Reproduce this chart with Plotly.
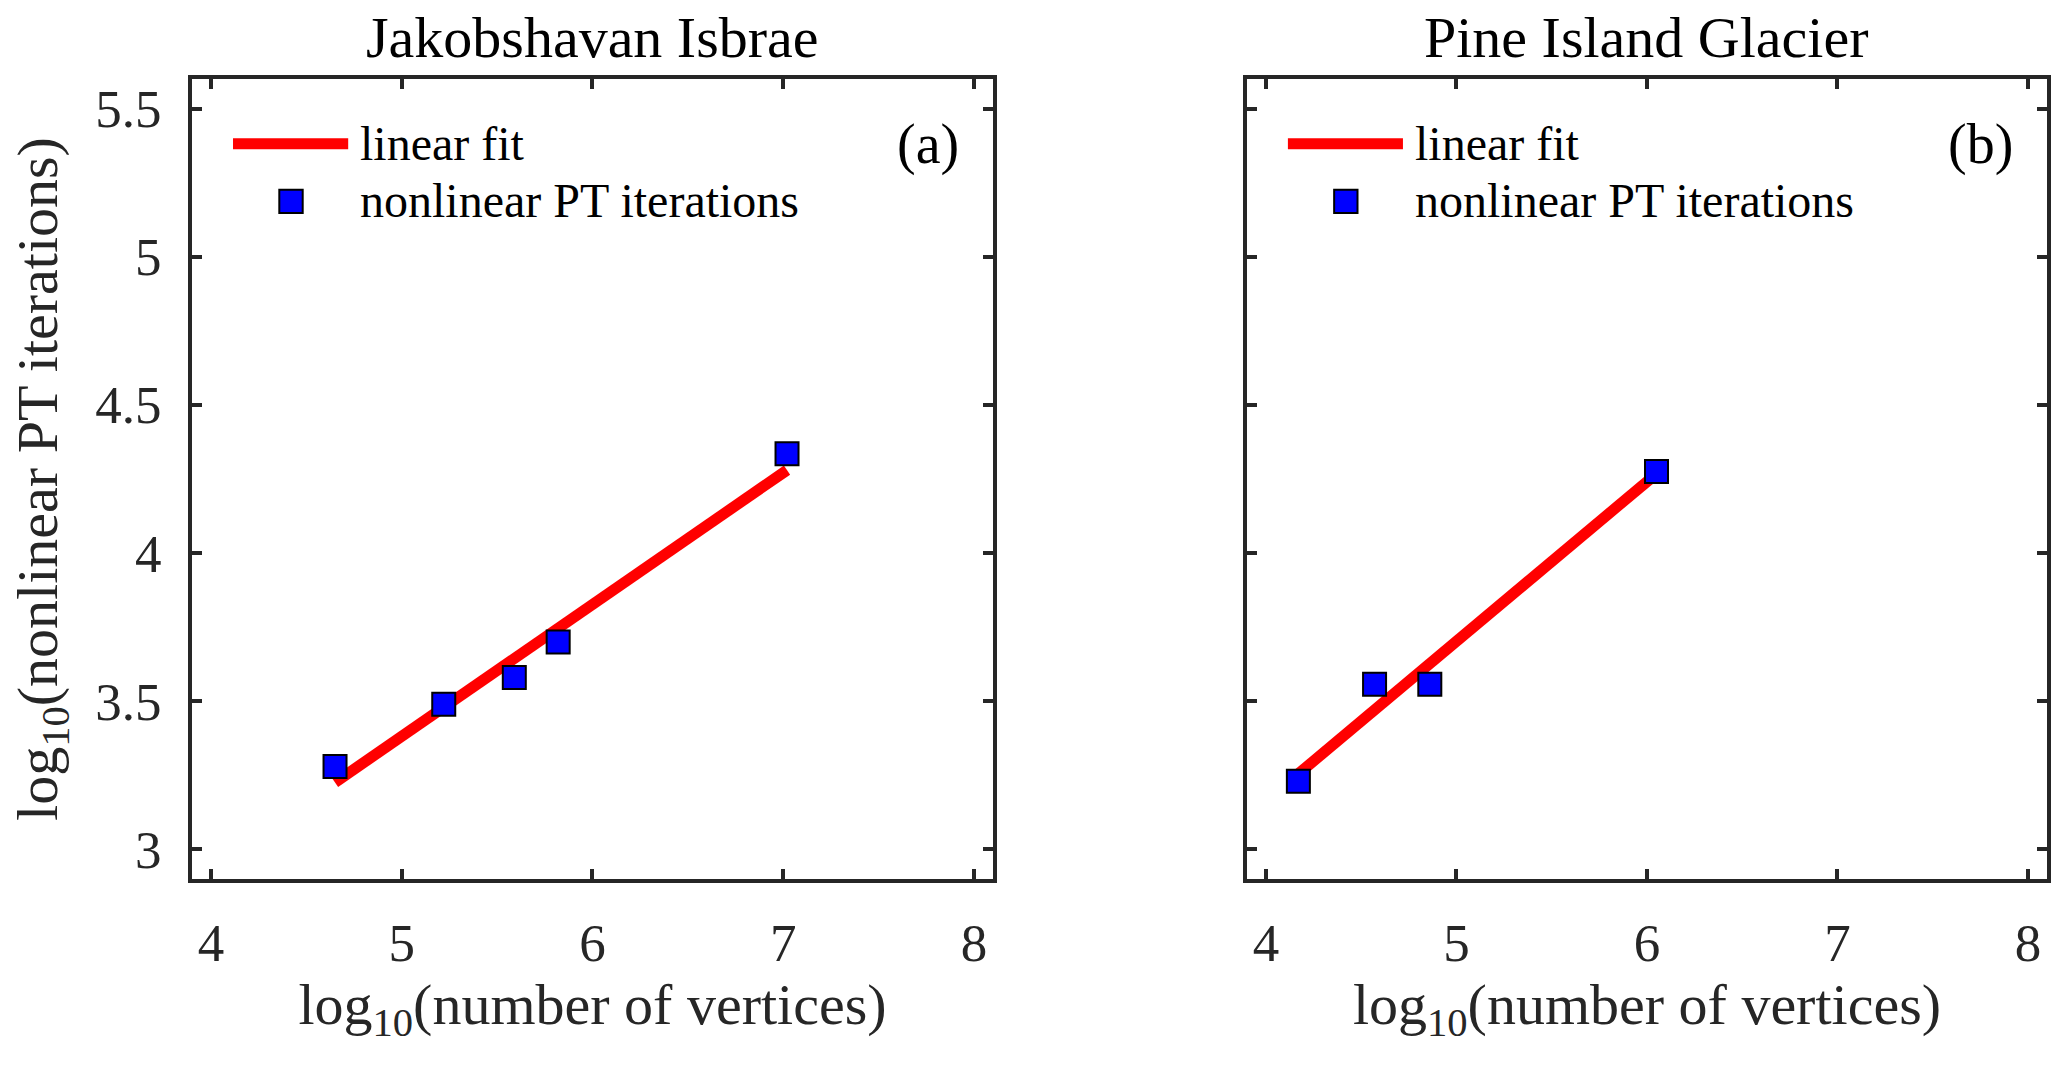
import plotly.graph_objects as go

# ---------------- data ----------------
panel_titles = ["Jakobshavan Isbrae", "Pine Island Glacier"]
panel_tags = ["(a)", "(b)"]

# Jakobshavan Isbrae
ji_log_vertices = [4.65, 5.22, 5.59, 5.82, 7.02]
ji_log_iters = [3.28, 3.49, 3.58, 3.70, 4.335]
ji_fit_x = [4.65, 7.02]
ji_fit_y = [3.226, 4.28]

# Pine Island Glacier
pig_log_vertices = [4.17, 4.57, 4.86, 6.05]
pig_log_iters = [3.23, 3.557, 3.557, 4.275]
pig_fit_x = [4.17, 6.05]
pig_fit_y = [3.255, 4.268]

x_tick_vals = [4, 5, 6, 7, 8]
x_tick_text = ["4", "5", "6", "7", "8"]
y_tick_vals = [3, 3.5, 4, 4.5, 5, 5.5]
y_tick_text = ["3", "3.5", "4", "4.5", "5", "5.5"]

legend_labels = ["linear fit", "nonlinear PT iterations"]
x_title = "log<sub>10</sub>(number of vertices)"
y_title = "log<sub>10</sub>(nonlinear PT iterations)"

# ---------------- styling ----------------
FONT = "Liberation Serif"
AX = "#262626"
FIT_COLOR = "#FF0000"
MARK_COLOR = "#0000FF"

W, H = 2067, 1066
M_L, M_R, M_T, M_B = 192, 20, 79, 187
PLOT_H = H - M_T - M_B

fig = go.Figure()

panels = [
    (ji_log_vertices, ji_log_iters, ji_fit_x, ji_fit_y, "x", "y"),
    (pig_log_vertices, pig_log_iters, pig_fit_x, pig_fit_y, "x2", "y2"),
]
for xs, ys, fx, fy, xa, ya in panels:
    fig.add_trace(go.Scatter(
        x=fx, y=fy, mode="lines", xaxis=xa, yaxis=ya,
        line=dict(color=FIT_COLOR, width=11), name=legend_labels[0],
        showlegend=False, hoverinfo="skip"))
    fig.add_trace(go.Scatter(
        x=xs, y=ys, mode="markers", xaxis=xa, yaxis=ya,
        marker=dict(symbol="square", size=23, color=MARK_COLOR,
                    line=dict(color="black", width=2)),
        name=legend_labels[1], showlegend=False))

common_axis = dict(
    showline=True, linewidth=4, linecolor=AX, mirror="ticks",
    ticks="inside", ticklen=10, tickwidth=4, tickcolor=AX,
    showgrid=False, zeroline=False,
    tickfont=dict(family=FONT, size=53, color=AX),
)

xaxis_cfg = dict(common_axis, range=[3.9, 8.1], tickmode="array",
                 tickvals=x_tick_vals, ticktext=x_tick_text,
                 ticklabelstandoff=14,
                 title=dict(text=x_title, font=dict(family=FONT, size=58, color=AX),
                            standoff=10))
yaxis_cfg = dict(common_axis, range=[2.9, 5.6], tickmode="array",
                 tickvals=y_tick_vals, ticktext=y_tick_text,
                 ticklabelstandoff=16)

fig.update_layout(
    width=W, height=H,
    margin=dict(l=M_L, r=M_R, t=M_T, b=M_B),
    paper_bgcolor="white", plot_bgcolor="white",
    showlegend=False,
    xaxis=dict(xaxis_cfg, domain=[0, 0.4318], anchor="y"),
    yaxis=dict(yaxis_cfg, anchor="x",
               title=dict(text=y_title, font=dict(family=FONT, size=58, color=AX),
                          standoff=20)),
    xaxis2=dict(xaxis_cfg, domain=[0.5687, 1.0], anchor="y2"),
    yaxis2=dict(yaxis_cfg, anchor="x2", showticklabels=False),
)

title_y = 1 + (M_T - 38) / PLOT_H  # title centre ~38 px below the top of the page

# titles, panel tags and in-axes legends
for i, (xa, ya) in enumerate([("x", "y"), ("x2", "y2")]):
    xd, yd = f"{xa} domain", f"{ya} domain"
    fig.add_annotation(text=panel_titles[i], xref=xd, yref="paper",
                       x=0.5, y=title_y, xanchor="center", yanchor="middle",
                       showarrow=False, font=dict(family=FONT, size=58, color="black"))
    fig.add_annotation(text=panel_tags[i], xref=xd, yref=yd,
                       x=0.96, y=0.918, xanchor="right", yanchor="middle",
                       showarrow=False, font=dict(family=FONT, size=56, color="black"))
    # legend: line sample
    fig.add_shape(type="line", xref=xd, yref=yd, x0=0.0512, x1=0.195,
                  y0=0.919, y1=0.919, line=dict(color=FIT_COLOR, width=11))
    # legend: marker sample
    fig.add_shape(type="rect", xref=xd, yref=yd, x0=0.1236 - 0.0146, x1=0.1236 + 0.0146,
                  y0=0.847 - 0.0146, y1=0.847 + 0.0146,
                  line=dict(color="black", width=2), fillcolor=MARK_COLOR)
    fig.add_annotation(text=legend_labels[0], xref=xd, yref=yd,
                       x=0.207, y=0.919, xanchor="left", yanchor="middle",
                       showarrow=False, font=dict(family=FONT, size=48, color="black"))
    fig.add_annotation(text=legend_labels[1], xref=xd, yref=yd,
                       x=0.207, y=0.848, xanchor="left", yanchor="middle",
                       showarrow=False, font=dict(family=FONT, size=48, color="black"))

fig.write_html("out.html", config={"displayModeBar": False},
               post_script="document.body.style.margin='0';")
